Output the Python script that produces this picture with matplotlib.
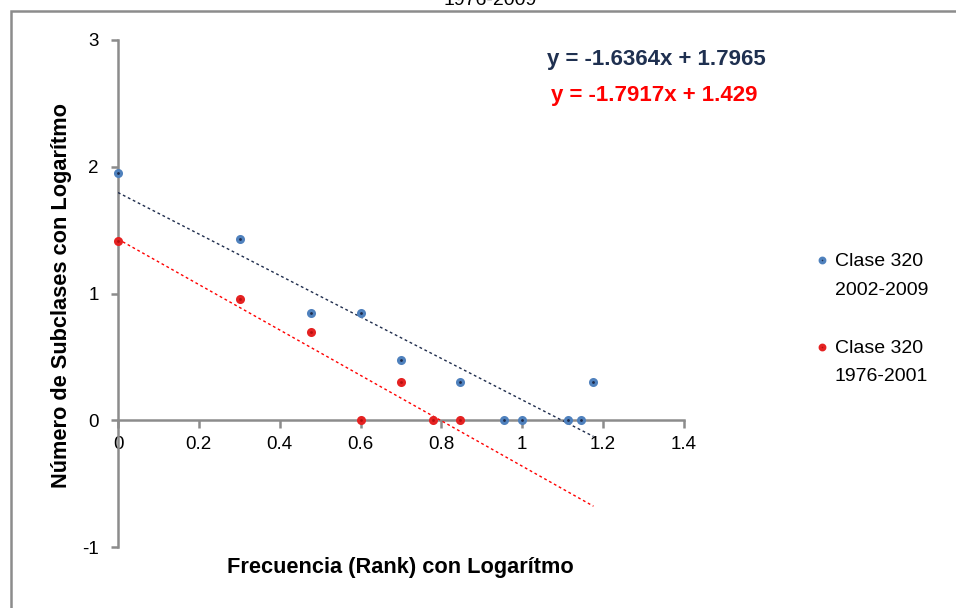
import numpy as np
import matplotlib
matplotlib.use('Agg')
from matplotlib import pyplot as plt
from matplotlib.patches import Rectangle

plt.rcParams['font.family'] = ['Liberation Sans', 'DejaVu Sans']
plt.rcParams['axes.unicode_minus'] = False

#Datos: rank y numero de subclases (antes del logaritmo)
rank_2002 = [1, 2, 3, 4, 5, 7, 9, 10, 13, 14, 15]
count_2002 = [90, 27, 7, 7, 3, 2, 1, 1, 1, 1, 2]
rank_1976 = [1, 2, 3, 4, 5, 6, 7]
count_1976 = [26, 9, 5, 1, 2, 1, 1]

#Lineas de tendencia (pendiente, intercepto)
trend_2002 = (-1.6364, 1.7965)
trend_1976 = (-1.7917, 1.429)
trend_end_rank = 15

label_2002 = 'Clase 320\n2002-2009'
label_1976 = 'Clase 320\n1976-2001'
title_txt = '1976-2009'

x_ticks = [0, 0.2, 0.4, 0.6, 0.8, 1, 1.2, 1.4]
x_tick_labels = ['0', '0.2', '0.4', '0.6', '0.8', '1', '1.2', '1.4']
y_ticks = [-1, 0, 1, 2, 3]

blue_edge = '#4F81BD'
blue_dark = '#1F2D4D'
red_edge = '#E52222'
red_dark = '#B50F0F'
axis_gray = '#8C8C8C'

fig = plt.figure(figsize=(9.56, 6.08), dpi=100)
ax = fig.add_axes([118/956, 1-547/608, 566/956, 507/608])

x_b = np.log10(rank_2002)
y_b = np.log10(count_2002)
x_r = np.log10(rank_1976)
y_r = np.log10(count_1976)

ax.plot(x_b, y_b, 'o', ms=4.3, mfc=blue_dark, mec=blue_edge, mew=2.2, linestyle='none', label=label_2002, zorder=4, clip_on=False)
ax.plot(x_r, y_r, 'o', ms=4.3, mfc=red_dark, mec=red_edge, mew=2.2, linestyle='none', label=label_1976, zorder=4, clip_on=False)

xt = np.array([0, np.log10(trend_end_rank)])
ax.plot(xt, trend_2002[0]*xt + trend_2002[1], color=blue_dark, lw=1, linestyle=(0, (2, 2)), zorder=3)
ax.plot(xt, trend_1976[0]*xt + trend_1976[1], color='#FF0000', lw=1, linestyle=(0, (2, 2)), zorder=3)

ax.set_xlim(0, 1.4)
ax.set_ylim(-1, 3)
ax.spines['top'].set_visible(False)
ax.spines['right'].set_visible(False)
ax.spines['bottom'].set_position(('data', 0))
for s in ['left', 'bottom']:
    ax.spines[s].set_color(axis_gray)
    ax.spines[s].set_linewidth(1.8)
ax.set_xticks(x_ticks)
ax.set_xticklabels(x_tick_labels)
ax.set_yticks(y_ticks)
ax.tick_params(axis='both', colors=axis_gray, labelcolor='black', labelsize=13.5, width=1.8)
ax.tick_params(axis='x', direction='out', length=6, pad=5)
ax.tick_params(axis='y', direction='out', length=5, pad=9)

fig.text(656/956, 1-60/608, 'y = -1.6364x + 1.7965', color='#1F3050', fontsize=16, fontweight='bold', ha='center', va='center')
fig.text(654/956, 1-96/608, 'y = -1.7917x + 1.429', color='#FF0000', fontsize=16, fontweight='bold', ha='center', va='center')

fig.text(400/956, 1-568/608, 'Frecuencia (Rank) con Logarítmo', fontsize=15.7, fontweight='bold', ha='center', va='center')
fig.text(62/956, 1-295/608, 'Número de Subclases con Logarítmo', fontsize=15.7, fontweight='bold', ha='center', va='center', rotation=90)

fig.text(490/956, 1-5/608, title_txt, fontsize=14, ha='center', va='baseline')

leg = ax.legend(loc='upper left', bbox_to_anchor=(799/956, 1-236/608), bbox_transform=fig.transFigure,
                frameon=False, fontsize=14, handlelength=0.6, handletextpad=0.35, labelspacing=2.1, markerscale=0.8)
for t in leg.get_texts():
    t.set_linespacing(1.88)
#marcador alineado con la primera linea del texto
for col in leg._legend_handle_box.get_children():
    for hp in col.get_children():
        hp.align = 'top'

#Marco del grafico
fig.patches.append(Rectangle((11/956, -0.1), 2, 1-11/608+0.1, transform=fig.transFigure,
                             fill=False, edgecolor=axis_gray, lw=1.8))

fig.savefig('out.png', dpi=100)
